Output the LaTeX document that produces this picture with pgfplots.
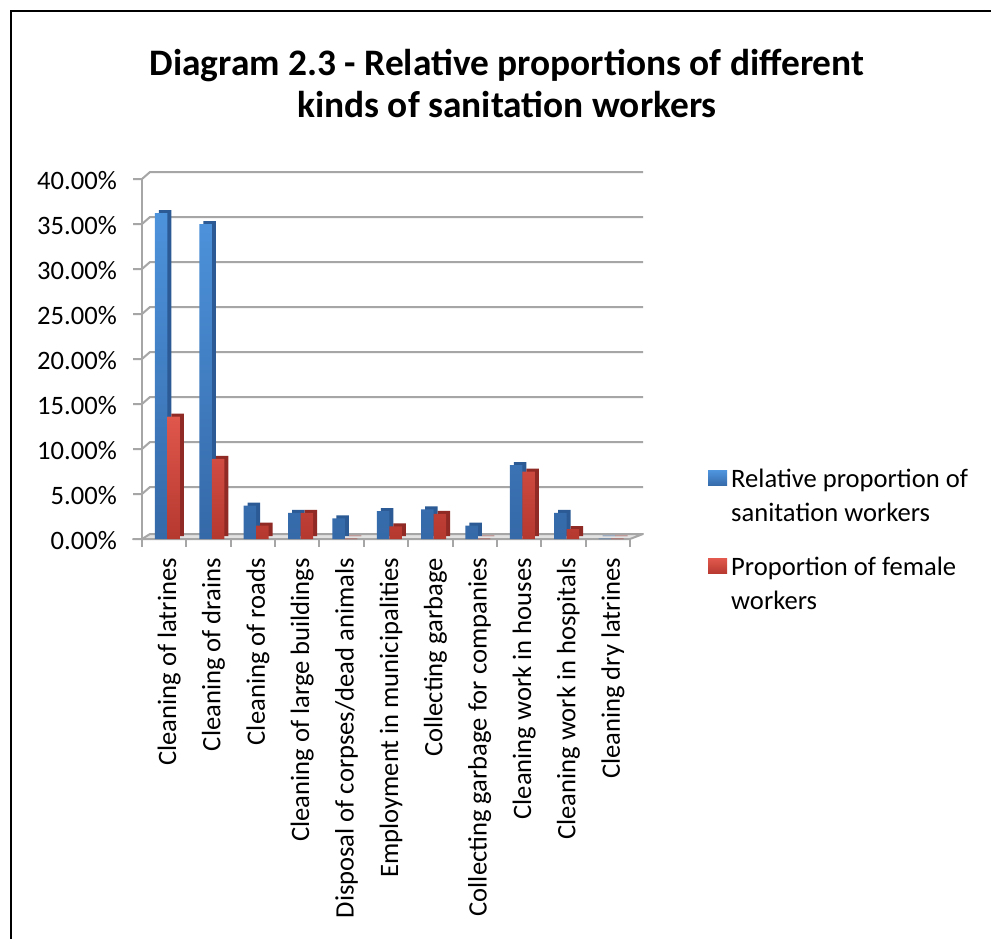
\documentclass[border=0pt]{standalone}
\usepackage{fontspec}
\setmainfont{Carlito}
\usepackage{pgfplots}
\usepackage{pgfplotstable}
\pgfplotsset{compat=1.18}
\definecolor{bluetopc}{HTML}{4D93DC}
\definecolor{bluebotc}{HTML}{3569A8}
\definecolor{bluefront}{HTML}{4383CA}
\definecolor{blueside}{HTML}{2B5A94}
\definecolor{redtopc}{HTML}{E0574C}
\definecolor{redbotc}{HTML}{B5382F}
\definecolor{redfront}{HTML}{CF463C}
\definecolor{redside}{HTML}{8F2A24}
\definecolor{gridgray}{HTML}{A6A6A6}
\definecolor{floorgray}{HTML}{E2E2E2}
\newcommand\lbl{\fontsize{26.6}{34}\selectfont}

\pgfplotstableread{
x blue red
0 36.2 13.6
1 35.0 8.9
2 3.7 1.5
3 2.9 2.9
4 2.3 0.05
5 3.1 1.4
6 3.3 2.8
7 1.5 0.05
8 8.2 7.5
9 2.9 1.1
10 0.05 0.05
}\datatable

\begin{document}
\begin{tikzpicture}[x=1pt,y=1pt]
\useasboundingbox (0,0) rectangle (991,938);
\fill[white] (0,0) rectangle (991,938);
\draw[line width=1.6pt, black] (11,-2) -- (11,927) -- (993,927);
\node[font=\bfseries\fontsize{37.4}{42}\selectfont, align=center] at (507,855) {Diagram 2.3 - Relative proportions of different\\kinds of sanitation workers};

\begin{axis}[
  at={(142pt,399pt)}, anchor=south west,
  scale only axis, width=488pt, height=360pt,
  xmin=-0.5, xmax=10.5, ymin=0, ymax=40,
  clip=false,
  axis line style={draw=none},
  tick style={draw=none},
  major tick length=0pt,
  xtick={0,1,...,10},
  xticklabels={Cleaning of latrines, Cleaning of drains, Cleaning of roads, Cleaning of large buildings, Disposal of corpses/dead animals, Employment in municipalities, Collecting garbage, Collecting garbage for companies, Cleaning work in houses, Cleaning work in hospitals, Cleaning dry latrines},
  xticklabel style={xshift=5pt, rotate=90, anchor=east, inner sep=0pt, font=\lbl},
  xticklabel shift=19pt,
  ytick={0,5,...,40},
  yticklabels={0.00\%,5.00\%,10.00\%,15.00\%,20.00\%,25.00\%,30.00\%,35.00\%,40.00\%},
  yticklabel style={anchor=east, inner sep=0pt, font=\lbl, yshift=-2pt},
  yticklabel shift=25pt,
  bar width=12.5pt,
]
% back wall gridlines with left connectors
\pgfplotsinvokeforeach{5,10,...,40}{
  \draw[gridgray, line width=2pt, line join=round] ([xshift=-9pt]axis cs:-0.5,#1) -- (axis cs:-0.5,#1) -- ([xshift=8pt,yshift=7pt]axis cs:-0.5,#1) -- ([xshift=13pt,yshift=7pt]axis cs:10.5,#1);
}
% floor
\fill[floorgray] (axis cs:-0.5,0) -- ([xshift=8pt,yshift=5pt]axis cs:-0.5,0) -- ([xshift=13pt,yshift=5pt]axis cs:10.5,0) -- (axis cs:10.5,0) -- cycle;
\draw[gridgray, line width=2pt, line join=round] ([xshift=-9pt]axis cs:-0.5,0) -- (axis cs:-0.5,0) -- ([xshift=8pt,yshift=5pt]axis cs:-0.5,0) -- ([xshift=13pt,yshift=5pt]axis cs:10.5,0) -- (axis cs:10.5,0) -- cycle;
\draw[gridgray, line width=2pt] (axis cs:-0.5,0) -- (axis cs:-0.5,40);
\pgfplotsinvokeforeach{-0.5,0.5,...,10.5}{
  \draw[gridgray, line width=2pt] (axis cs:#1,0) -- ([yshift=-8pt]axis cs:#1,0);
}
% bars
\addplot[ybar, bar shift=-3pt, fill=blueside, draw=none, xshift=4pt, yshift=3pt, forget plot] table[x=x,y=blue]{\datatable};
\addplot[ybar, bar shift=-3pt, draw=none, shading=axis, top color=bluetopc, bottom color=bluebotc, forget plot] table[x=x,y=blue]{\datatable};
\addplot[ybar, bar shift=9.5pt, fill=redside, draw=none, xshift=4pt, yshift=3pt, forget plot] table[x=x,y=red]{\datatable};
\addplot[ybar, bar shift=9.5pt, draw=none, shading=axis, top color=redtopc, bottom color=redbotc, forget plot] table[x=x,y=red]{\datatable};
\end{axis}

% legend
\shade[top color=bluetopc, bottom color=bluebotc] (708,452) rectangle (727,467);
\node[anchor=west, align=left, font=\lbl, inner sep=0pt] at (731,443) {Relative proportion of\\sanitation workers};
\shade[top color=redtopc, bottom color=redbotc] (708,364) rectangle (727,379);
\node[anchor=west, align=left, font=\lbl, inner sep=0pt] at (731,355) {Proportion of female\\workers};
\end{tikzpicture}
\end{document}
